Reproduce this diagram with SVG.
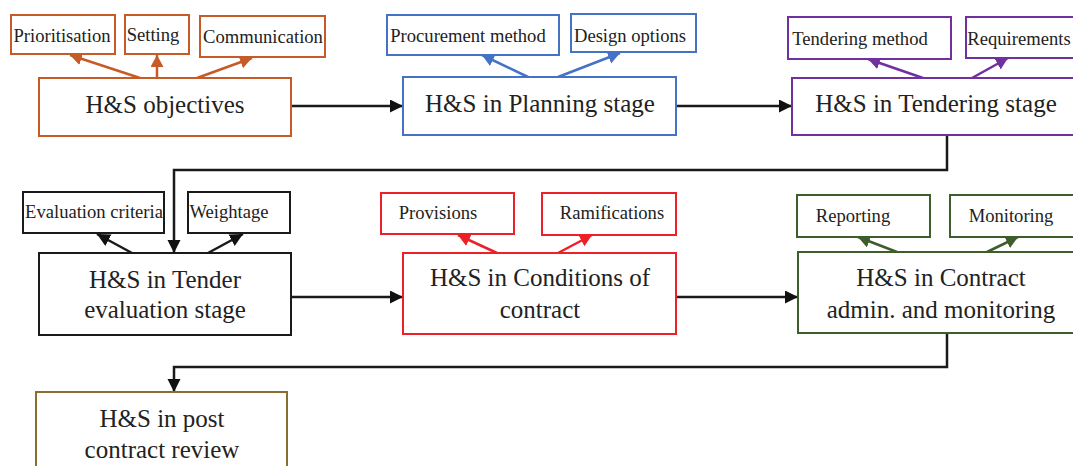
<svg xmlns="http://www.w3.org/2000/svg" width="1073" height="466" viewBox="0 0 1073 466">
<defs>
<style>
rect{fill:#fff;stroke-width:2}
text{font-family:"Liberation Serif","Times New Roman",serif;fill:#222;text-anchor:middle}
.m{font-size:25px}
.s{font-size:18.6px}
.or{stroke:#C65B28}.bl{stroke:#4472C4}.pu{stroke:#7030A0}.bk{stroke:#1a1a1a}.rd{stroke:#EE2027}.gr{stroke:#3B5E2B}.br{stroke:#8B6D2F}
line,polyline{fill:none;stroke-width:2.5}
</style>
<marker id="aK" markerUnits="userSpaceOnUse" markerWidth="14" markerHeight="14" refX="13" refY="6.5" orient="auto"><path d="M0,0L13,6.5L0,13z" fill="#111"/></marker>
<marker id="aO" markerUnits="userSpaceOnUse" markerWidth="14" markerHeight="14" refX="12" refY="6.5" orient="auto"><path d="M0,0L12,6.5L0,13z" fill="#C65B28"/></marker>
<marker id="aB" markerUnits="userSpaceOnUse" markerWidth="14" markerHeight="14" refX="12" refY="6.5" orient="auto"><path d="M0,0L12,6.5L0,13z" fill="#4472C4"/></marker>
<marker id="aP" markerUnits="userSpaceOnUse" markerWidth="14" markerHeight="14" refX="12" refY="6.5" orient="auto"><path d="M0,0L12,6.5L0,13z" fill="#7030A0"/></marker>
<marker id="aR" markerUnits="userSpaceOnUse" markerWidth="14" markerHeight="14" refX="12" refY="6.5" orient="auto"><path d="M0,0L12,6.5L0,13z" fill="#EE2027"/></marker>
<marker id="aG" markerUnits="userSpaceOnUse" markerWidth="14" markerHeight="14" refX="12" refY="6.5" orient="auto"><path d="M0,0L12,6.5L0,13z" fill="#3B5E2B"/></marker>
</defs>
<rect width="1073" height="466" fill="#fff" style="stroke:none"/>

<g id="connectors">
<line class="bk" x1="291" y1="106" x2="403" y2="106" marker-end="url(#aK)"/>
<line class="bk" x1="676" y1="106" x2="792" y2="106" marker-end="url(#aK)"/>
<polyline class="bk" points="947,135 947,170 174,170 174,253" marker-end="url(#aK)"/>
<line class="bk" x1="291" y1="297" x2="403" y2="297" marker-end="url(#aK)"/>
<line class="bk" x1="676" y1="297" x2="798" y2="297" marker-end="url(#aK)"/>
<polyline class="bk" points="947,333 947,367 174,367 174,392" marker-end="url(#aK)"/>
<line class="or" x1="140" y1="78" x2="70" y2="55" marker-end="url(#aO)"/>
<line class="or" x1="157" y1="78" x2="157" y2="55" marker-end="url(#aO)"/>
<line class="or" x1="197" y1="78" x2="252" y2="58" marker-end="url(#aO)"/>
<line class="bl" x1="528" y1="77" x2="482" y2="55" marker-end="url(#aB)"/>
<line class="bl" x1="558" y1="77" x2="620" y2="53" marker-end="url(#aB)"/>
<line class="pu" x1="923" y1="78" x2="868" y2="59" marker-end="url(#aP)"/>
<line class="pu" x1="972" y1="78" x2="1008" y2="58" marker-end="url(#aP)"/>
<line class="bk" x1="132" y1="253" x2="97" y2="234" marker-end="url(#aK)"/>
<line class="bk" x1="208" y1="253" x2="243" y2="234" marker-end="url(#aK)"/>
<line class="rd" x1="497" y1="253" x2="458" y2="235" marker-end="url(#aR)"/>
<line class="rd" x1="558" y1="253" x2="592" y2="235" marker-end="url(#aR)"/>
<line class="gr" x1="897" y1="252" x2="858" y2="237" marker-end="url(#aG)"/>
<line class="gr" x1="987" y1="252" x2="1018" y2="237" marker-end="url(#aG)"/>
</g>

<g id="n-objectives"><rect class="or" x="39" y="78" width="252" height="58"/><text class="m" x="165" y="113">H&amp;S objectives</text></g>
<g id="n-prioritisation"><rect class="or" x="11" y="15" width="104" height="39"/><text class="s" x="62" y="42">Prioritisation</text></g>
<g id="n-setting"><rect class="or" x="125" y="15" width="64" height="39"/><text class="s" x="153" y="41">Setting</text></g>
<g id="n-communication"><rect class="or" x="200" y="16" width="125" height="41"/><text class="s" x="263" y="43">Communication</text></g>

<g id="n-planning"><rect class="bl" x="403" y="77" width="273" height="58"/><text class="m" x="540" y="112">H&amp;S in Planning stage</text></g>
<g id="n-procurement"><rect class="bl" x="387" y="15" width="172" height="40"/><text class="s" x="468" y="42">Procurement method</text></g>
<g id="n-design"><rect class="bl" x="571" y="14" width="125" height="38"/><text class="s" x="630" y="42">Design options</text></g>

<g id="n-tendering"><rect class="pu" x="792" y="78" width="290" height="57"/><text class="m" x="936" y="112">H&amp;S in Tendering stage</text></g>
<g id="n-tmethod"><rect class="pu" x="788" y="17" width="163" height="42"/><text class="s" x="860" y="45">Tendering method</text></g>
<g id="n-requirements"><rect class="pu" x="966" y="17" width="116" height="41"/><text class="s" x="1019" y="45">Requirements</text></g>

<g id="n-evaluation"><rect class="bk" x="39" y="253" width="252" height="82"/><text class="m" x="165" y="288">H&amp;S in Tender</text><text class="m" x="165" y="318">evaluation stage</text></g>
<g id="n-criteria"><rect class="bk" x="23" y="192" width="141" height="41"/><text class="s" x="94" y="218">Evaluation criteria</text></g>
<g id="n-weightage"><rect class="bk" x="188" y="192" width="102" height="41"/><text class="s" x="229" y="218">Weightage</text></g>

<g id="n-conditions"><rect class="rd" x="403" y="253" width="273" height="81"/><text class="m" x="540" y="286">H&amp;S in Conditions of</text><text class="m" x="540" y="318">contract</text></g>
<g id="n-provisions"><rect class="rd" x="381" y="193" width="133" height="41"/><text class="s" x="438" y="219">Provisions</text></g>
<g id="n-ramifications"><rect class="rd" x="542" y="193" width="134" height="42"/><text class="s" x="612" y="219">Ramifications</text></g>

<g id="n-contract"><rect class="gr" x="798" y="252" width="284" height="81"/><text class="m" x="941" y="286">H&amp;S in Contract</text><text class="m" x="941" y="318">admin. and monitoring</text></g>
<g id="n-reporting"><rect class="gr" x="797" y="195" width="133" height="42"/><text class="s" x="853" y="222">Reporting</text></g>
<g id="n-monitoring"><rect class="gr" x="950" y="195" width="132" height="42"/><text class="s" x="1011" y="222">Monitoring</text></g>

<g id="n-post"><rect class="br" x="36" y="392" width="251" height="90"/><text class="m" x="162" y="427">H&amp;S in post</text><text class="m" x="162" y="458">contract review</text></g>
</svg>
